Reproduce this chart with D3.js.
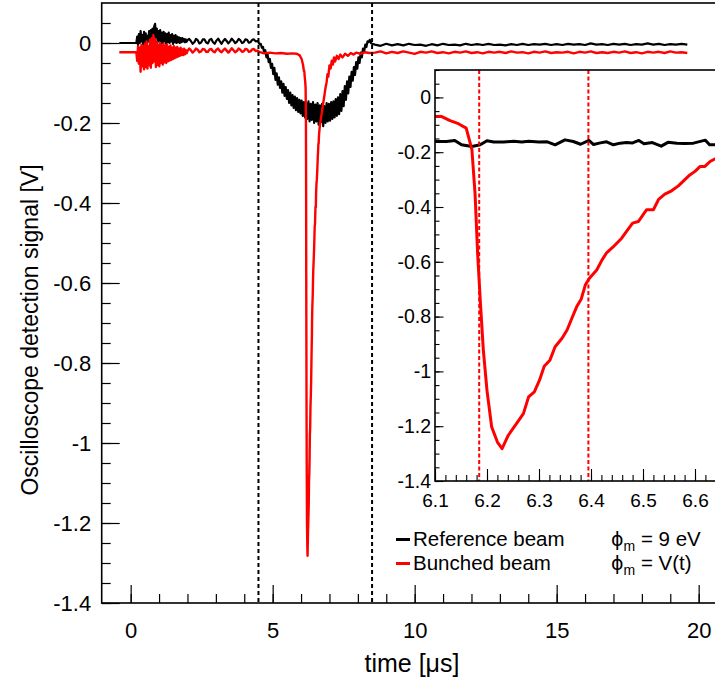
<!DOCTYPE html>
<html><head><meta charset="utf-8">
<script src="https://cdn.jsdelivr.net/npm/d3@7"></script>
<style>body{margin:0;background:#fff}svg{display:block}text{font-family:"Liberation Sans",Arial,Helvetica,sans-serif}</style>
</head><body><svg id="c" width="715" height="686"></svg>
<script>
// ---------------- data ----------------
// Reference beam, main panel (time in µs, signal in V)
const refStart = [[-0.4, 0.0], [0.2, 0.0]];
const refNoiseT0 = 0.2, refNoiseDt = 0.03;
const refNoise = [0.000,0.016,-0.006,0.022,0.000,0.030,0.004,0.020,-0.004,0.028,
  0.002,0.024,-0.002,0.018,0.004,0.030,0.000,0.032,0.010,0.036,
  0.006,0.042,0.048,0.014,0.036,0.002,0.030,0.006,0.032,-0.002,
  0.026,0.000,0.028,0.004,0.024,-0.002,0.022,0.002,0.026,0.000,
  0.020,0.004,0.022,-0.002,0.018,0.002,0.020,0.000,0.016,0.002,
  0.014,0.000,0.012,0.002,0.012,0.004,0.010,0.002,0.009,0.003,0.007];
const refRippleT0 = 2.06, refRippleDt = 0.06;
const refRipple = [0.010,0.005,-0.002,0.002,0.010,0.007,-0.001,0.001,0.009,0.009,
  0.001,-0.001,0.008,0.010,0.002,-0.002,0.006,0.011,0.004,-0.002,
  0.005,0.010,0.005,-0.001,0.004,0.011,0.006,0.000,0.003,0.010,
  0.007,0.000,0.002,0.009,0.008,0.001,0.002,0.008,0.009,0.004,0.005];
const refDipT0 = 4.5, refDipDt = 0.04;
const refDip = [0.002,-0.003,-0.002,-0.012,-0.010,-0.024,-0.018,-0.036,-0.028,-0.048,
  -0.040,-0.062,-0.052,-0.078,-0.062,-0.092,-0.076,-0.104,-0.086,-0.112,
  -0.096,-0.124,-0.102,-0.132,-0.110,-0.140,-0.118,-0.150,-0.124,-0.156,
  -0.130,-0.162,-0.134,-0.168,-0.138,-0.172,-0.142,-0.176,-0.144,-0.182,
  -0.148,-0.186,-0.150,-0.190,-0.146,-0.196,-0.152,-0.192,-0.148,-0.200,
  -0.154,-0.196,-0.150,-0.204,-0.156,-0.198,-0.152,-0.208,-0.158,-0.200,
  -0.150,-0.196,-0.152,-0.194,-0.148,-0.190,-0.146,-0.186,-0.140,-0.182,
  -0.136,-0.178,-0.128,-0.170,-0.120,-0.158,-0.108,-0.142,-0.096,-0.126,
  -0.084,-0.110,-0.072,-0.094,-0.060,-0.080,-0.048,-0.064,-0.036,-0.050,
  -0.024,-0.036,-0.014,-0.022,-0.004,-0.010,0.004,0.002,0.008,0.000,-0.002];
const refTailT0 = 8.6, refTailDt = 0.2;
const refTail = [-0.004,-0.007,-0.002,-0.006,-0.003,-0.006,-0.002,-0.005,-0.004,-0.007,
  -0.003,-0.006,-0.002,-0.005,-0.004,-0.006,-0.002,-0.005,-0.003,-0.005,
  -0.002,-0.005,-0.004,-0.006,-0.003,-0.005,-0.002,-0.005,-0.003,-0.004,
  -0.002,-0.005,-0.003,-0.005,-0.002,-0.004,-0.003,-0.005,-0.001,-0.004,
  -0.003,-0.005,-0.002,-0.004,-0.002,-0.005,-0.003,-0.004,-0.001,-0.004,
  -0.002,-0.005,-0.003,-0.004,-0.002,-0.004];

// Bunched beam, main panel
const bunStart = [[-0.4, -0.023], [0.2, -0.023]];
const bunNoise = [-0.023,-0.045,-0.008,-0.052,-0.012,-0.072,-0.004,-0.058,-0.010,-0.066,
  -0.002,-0.060,0.004,-0.064,-0.008,-0.056,0.008,-0.062,0.012,-0.050,
  0.020,-0.046,0.010,-0.060,0.002,-0.055,-0.004,-0.058,0.000,-0.050,
  -0.006,-0.054,-0.002,-0.048,-0.008,-0.050,-0.004,-0.046,-0.010,-0.044,
  -0.006,-0.042,-0.012,-0.040,-0.008,-0.038,-0.012,-0.036,-0.010,-0.034,
  -0.014,-0.032,-0.012,-0.030,-0.016,-0.030,-0.014,-0.028,-0.018,-0.026,-0.020];
const bunRipple = [-0.014,-0.018,-0.024,-0.020,-0.014,-0.017,-0.023,-0.021,-0.015,-0.016,
  -0.022,-0.022,-0.016,-0.015,-0.021,-0.023,-0.017,-0.014,-0.020,-0.023,
  -0.018,-0.014,-0.019,-0.024,-0.019,-0.013,-0.018,-0.023,-0.020,-0.014,
  -0.017,-0.022,-0.021,-0.015,-0.016,-0.022,-0.021,-0.016,-0.015,-0.020,-0.019];
const bunPlateau = [[4.52,-0.022],[4.70,-0.026],[4.90,-0.024],[5.10,-0.026],[5.30,-0.025],
  [5.50,-0.027],[5.70,-0.026],[5.85,-0.027],[5.95,-0.031],[6.02,-0.040],[6.07,-0.055]];
const bunPeak = [[6.100,-0.070],[6.113,-0.070],[6.129,-0.085],[6.145,-0.096],[6.160,-0.112],
  [6.171,-0.191],[6.177,-0.350],[6.182,-0.570],[6.187,-0.740],[6.193,-0.923],[6.200,-1.070],
  [6.209,-1.203],[6.220,-1.258],[6.229,-1.282],[6.241,-1.233],[6.257,-1.190],[6.270,-1.154],
  [6.280,-1.093],[6.291,-1.075],[6.301,-1.032],[6.310,-0.981],[6.321,-0.959],[6.331,-0.910],
  [6.344,-0.880],[6.354,-0.849],[6.363,-0.807],[6.373,-0.762],[6.381,-0.737],[6.389,-0.685],
  [6.397,-0.660],[6.411,-0.630],[6.421,-0.594],[6.430,-0.567],[6.443,-0.545],[6.459,-0.514],
  [6.468,-0.490],[6.480,-0.459],[6.491,-0.453],[6.507,-0.410],[6.520,-0.410],[6.530,-0.372],
  [6.542,-0.353],[6.555,-0.341],[6.568,-0.323],[6.580,-0.301],[6.590,-0.283],[6.600,-0.270],
  [6.610,-0.252],[6.619,-0.252],[6.629,-0.234],[6.638,-0.225]];
const bunRecovery = [[6.66,-0.208],[6.70,-0.188],[6.74,-0.170],[6.78,-0.150],[6.82,-0.132],
  [6.86,-0.112],[6.90,-0.098],[6.93,-0.078],[6.96,-0.084],[7.00,-0.056],[7.04,-0.064],
  [7.08,-0.044],[7.12,-0.054],[7.16,-0.036],[7.20,-0.046],[7.26,-0.032],[7.32,-0.040],
  [7.38,-0.029],[7.46,-0.036],[7.55,-0.027],[7.65,-0.032],[7.75,-0.025],[7.85,-0.029],
  [7.95,-0.024],[8.10,-0.027],[8.25,-0.023],[8.40,-0.025]];
const bunTail = [-0.024,-0.021,-0.026,-0.022,-0.025,-0.021,-0.024,-0.027,-0.022,-0.024,
  -0.021,-0.025,-0.023,-0.026,-0.022,-0.024,-0.021,-0.025,-0.023,-0.026,
  -0.022,-0.024,-0.022,-0.025,-0.021,-0.024,-0.023,-0.026,-0.022,-0.024,
  -0.021,-0.025,-0.023,-0.024,-0.022,-0.026,-0.022,-0.024,-0.021,-0.025,
  -0.023,-0.025,-0.022,-0.024,-0.021,-0.025,-0.023,-0.026,-0.022,-0.024,
  -0.022,-0.025,-0.021,-0.024,-0.023,-0.025];

// Reference beam, zoomed inset
const refInset = [[6.100,-0.161],[6.122,-0.161],[6.138,-0.157],[6.151,-0.173],[6.171,-0.179],
  [6.187,-0.173],[6.200,-0.158],[6.213,-0.163],[6.232,-0.163],[6.251,-0.160],[6.267,-0.163],
  [6.280,-0.160],[6.300,-0.163],[6.316,-0.162],[6.331,-0.173],[6.350,-0.155],[6.366,-0.161],
  [6.380,-0.171],[6.396,-0.157],[6.405,-0.172],[6.418,-0.166],[6.430,-0.162],[6.443,-0.173],
  [6.456,-0.167],[6.468,-0.165],[6.480,-0.166],[6.492,-0.157],[6.502,-0.169],[6.518,-0.165],
  [6.535,-0.178],[6.548,-0.164],[6.565,-0.167],[6.580,-0.168],[6.597,-0.167],[6.620,-0.156],
  [6.628,-0.173],[6.640,-0.173],[6.680,-0.168]];

const mainMarkers = [4.5, 8.5];
const insetMarkers = [6.185, 6.395];
const mainXTicks = [0, 5, 10, 15, 20];
const mainYTicks = [0, -0.2, -0.4, -0.6, -0.8, -1, -1.2, -1.4];
const insetXTicks = [6.1, 6.2, 6.3, 6.4, 6.5, 6.6];
const insetYTicks = [0, -0.2, -0.4, -0.6, -0.8, -1, -1.2, -1.4];
const legendLabels = ["Reference beam", "Bunched beam"];
const legendColors = ["#000000", "#ff0000"];
const phiValues = ["9 eV", "V(t)"];

// ---------------- drawing ----------------
const sampled = (t0, dt, vals) => vals.map((v, i) => [t0 + i * dt, v]);
const refMain = [...refStart, ...sampled(refNoiseT0, refNoiseDt, refNoise),
  ...sampled(refRippleT0, refRippleDt, refRipple), ...sampled(refDipT0, refDipDt, refDip),
  ...sampled(refTailT0, refTailDt, refTail)];
const bunMain = [...bunStart, ...sampled(refNoiseT0, refNoiseDt, bunNoise),
  ...sampled(refRippleT0, refRippleDt, bunRipple), ...bunPlateau, ...bunPeak, ...bunRecovery,
  ...sampled(refTailT0, refTailDt, bunTail)];
const bunInset = [...bunPlateau.slice(-2), ...bunPeak, ...bunRecovery.slice(0, 3)];

const svg = d3.select("#c");
const FONT = '"Liberation Sans", Arial, Helvetica, sans-serif';

const xM = d3.scaleLinear([-1.02, 21], [101.7, 101.7 + 22.02 * 28.4]);
const yM = d3.scaleLinear([-1.4, 0.1], [603, 3]);
const xI = d3.scaleLinear([6.1, 6.7], [435, 747]);
const yI = d3.scaleLinear([-1.4, 0.1], [481, 70]);

const defs = svg.append("defs");
defs.append("clipPath").attr("id", "clipM").append("rect")
  .attr("x", xM(-1.02)).attr("y", yM(0.1)).attr("width", 720).attr("height", yM(-1.4) - yM(0.1));
defs.append("clipPath").attr("id", "clipI").append("rect")
  .attr("x", xI(6.1)).attr("y", yI(0.1)).attr("width", 400).attr("height", yI(-1.4) - yI(0.1));

const fmt = d => String(+d.toFixed(2));

function styleAxis(g, size, sw) {
  g.select(".domain").remove();
  g.selectAll("line").attr("stroke", "#000").attr("stroke-width", sw);
  g.selectAll("text").attr("font-size", size).attr("font-family", FONT).attr("fill", "#000");
}

// main axes
const minorMY = d3.range(-1.4, 0.0501, 0.05).map(v => +v.toFixed(2));
const minorMX = d3.range(0, 21, 1);
svg.append("g").attr("transform", `translate(${xM(-1.02)},0)`)
  .call(d3.axisLeft(yM).tickValues(minorMY).tickFormat("").tickSizeInner(-9).tickSizeOuter(0))
  .call(g => styleAxis(g, 22, 1.2));
svg.append("g").attr("transform", `translate(${xM(-1.02)},0)`)
  .call(d3.axisLeft(yM).tickValues(mainYTicks).tickFormat(fmt).tickSizeInner(-18).tickSizeOuter(0).tickPadding(10.5))
  .call(g => styleAxis(g, 22, 1.2));
svg.append("g").attr("transform", `translate(0,${yM(-1.4)})`)
  .call(d3.axisBottom(xM).tickValues(minorMX).tickFormat("").tickSizeInner(-9).tickSizeOuter(0))
  .call(g => styleAxis(g, 22, 1.2));
svg.append("g").attr("transform", `translate(0,${yM(-1.4)})`)
  .call(d3.axisBottom(xM).tickValues(mainXTicks).tickFormat(fmt).tickSizeInner(-18).tickSizeOuter(0).tickPadding(19))
  .call(g => styleAxis(g, 22, 1.2));

// main frame
svg.append("rect").attr("x", xM(-1.02)).attr("y", yM(0.1))
  .attr("width", 720).attr("height", yM(-1.4) - yM(0.1))
  .attr("fill", "none").attr("stroke", "#000").attr("stroke-width", 1.6);

// main traces
const lineM = d3.line().x(d => xM(d[0])).y(d => yM(d[1]));
const gM = svg.append("g").attr("clip-path", "url(#clipM)");
gM.append("path").datum(refMain).attr("d", lineM)
  .attr("fill", "none").attr("stroke", legendColors[0]).attr("stroke-width", 2.2).attr("stroke-linejoin", "round");
gM.append("path").datum(bunMain).attr("d", lineM)
  .attr("fill", "none").attr("stroke", legendColors[1]).attr("stroke-width", 2.4).attr("stroke-linejoin", "round");
gM.selectAll("line.mk").data(mainMarkers).join("line").attr("class", "mk")
  .attr("x1", d => xM(d)).attr("x2", d => xM(d)).attr("y1", yM(0.1)).attr("y2", yM(-1.4))
  .attr("stroke", "#000").attr("stroke-width", 2).attr("stroke-dasharray", "4,3");

// inset
svg.append("rect").attr("x", xI(6.1)).attr("y", yI(0.1))
  .attr("width", 400).attr("height", yI(-1.4) - yI(0.1)).attr("fill", "#fff");
const lineI = d3.line().x(d => xI(d[0])).y(d => yI(d[1]));
const gI = svg.append("g").attr("clip-path", "url(#clipI)");
gI.append("path").datum(refInset).attr("d", lineI)
  .attr("fill", "none").attr("stroke", legendColors[0]).attr("stroke-width", 3).attr("stroke-linejoin", "round");
gI.append("path").datum(bunInset).attr("d", lineI)
  .attr("fill", "none").attr("stroke", legendColors[1]).attr("stroke-width", 3).attr("stroke-linejoin", "round");
gI.selectAll("line.mk").data(insetMarkers).join("line").attr("class", "mk")
  .attr("x1", d => xI(d)).attr("x2", d => xI(d)).attr("y1", yI(0.1)).attr("y2", yI(-1.4))
  .attr("stroke", "#ff0000").attr("stroke-width", 2).attr("stroke-dasharray", "4,2.5");

const minorIY = d3.range(-1.4, 0.1001, 0.05).map(v => +v.toFixed(2));
const minorIX = d3.range(6.1, 6.701, 0.02).map(v => +v.toFixed(2));
svg.append("g").attr("transform", `translate(${xI(6.1)},0)`)
  .call(d3.axisLeft(yI).tickValues(minorIY).tickFormat("").tickSizeInner(-4.5).tickSizeOuter(0))
  .call(g => styleAxis(g, 19, 1.1));
svg.append("g").attr("transform", `translate(${xI(6.1)},0)`)
  .call(d3.axisLeft(yI).tickValues(insetYTicks).tickFormat(fmt).tickSizeInner(-8.5).tickSizeOuter(0).tickPadding(4))
  .call(g => styleAxis(g, 19.5, 1.1));
svg.append("g").attr("transform", `translate(0,${yI(-1.4)})`)
  .call(d3.axisBottom(xI).tickValues(minorIX).tickFormat("").tickSizeInner(-6).tickSizeOuter(0))
  .call(g => styleAxis(g, 19, 1.1));
svg.append("g").attr("transform", `translate(0,${yI(-1.4)})`)
  .call(d3.axisBottom(xI).tickValues(insetXTicks).tickFormat(fmt).tickSizeInner(-12).tickSizeOuter(0).tickPadding(13))
  .call(g => styleAxis(g, 19, 1.1));
svg.append("rect").attr("x", xI(6.1)).attr("y", yI(0.1))
  .attr("width", 400).attr("height", yI(-1.4) - yI(0.1))
  .attr("fill", "none").attr("stroke", "#000").attr("stroke-width", 1.6);

// axis titles
svg.append("text").attr("x", 412).attr("y", 672).attr("text-anchor", "middle")
  .attr("font-size", 25).attr("font-family", FONT).text("time [μs]");
svg.append("text").attr("transform", "translate(38,330) rotate(-90)").attr("text-anchor", "middle")
  .attr("font-size", 23).attr("font-family", FONT).text("Oscilloscope detection signal [V]");

// legend
const legY = [546, 570];
legendLabels.forEach((lab, i) => {
  svg.append("line").attr("x1", 396).attr("x2", 410).attr("y1", legY[i] - 6.5).attr("y2", legY[i] - 6.5)
    .attr("stroke", legendColors[i]).attr("stroke-width", 3);
  svg.append("text").attr("x", 413).attr("y", legY[i]).attr("font-size", 20.5)
    .attr("font-family", FONT).text(lab);
  const t = svg.append("text").attr("x", 611).attr("y", legY[i]).attr("font-size", 20.5).attr("font-family", FONT);
  t.append("tspan").attr("font-family", '"DejaVu Sans", sans-serif').attr("font-size", 19).text("ϕ");
  t.append("tspan").attr("font-size", 14).attr("dy", 5).text("m");
  t.append("tspan").attr("dy", -5).text(" = " + phiValues[i]);
});
</script></body></html>
